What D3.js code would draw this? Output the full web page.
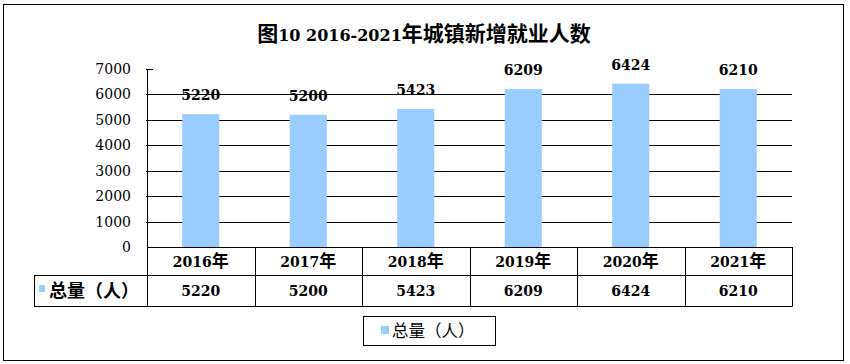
<!DOCTYPE html>
<html>
<head>
<meta charset="utf-8">
<script src="https://cdn.jsdelivr.net/npm/d3@7"></script>
<style>
  body { margin: 0; background: #fff; }
  svg { display: block; }
</style>
</head>
<body>
<svg id="chart"></svg>
<script>
// chart data
const title = "图10 2016-2021年城镇新增就业人数";
const years = ["2016年", "2017年", "2018年", "2019年", "2020年", "2021年"];
const seriesName = "总量（人）";
const totals = [5220, 5200, 5423, 6209, 6424, 6210];
const yTicks = [0, 1000, 2000, 3000, 4000, 5000, 6000, 7000];

const width = 850, height = 364;
const barColor = "#99ccff";
const serif = "'DejaVu Serif', 'Noto Sans CJK SC', serif";
const cjk = "'Noto Sans CJK SC', sans-serif";

const plot = { left: 147, right: 792, top: 69, bottom: 247 };
const rowH = [28, 31]; // header row, value row

const svg = d3.select("#chart").attr("width", width).attr("height", height);

// split text into latin / CJK runs so both can get their own size
function mixedText(sel, str, latinSize, cjkSize) {
  const parts = str.split(/([\u3000-\u9fff\uff00-\uffef]+)/).filter((s) => s.length);
  parts.forEach((p) => {
    const isCjk = /[\u3000-\u9fff\uff00-\uffef]/.test(p);
    sel.append("tspan")
      .attr("font-family", isCjk ? cjk : serif)
      .attr("font-size", isCjk ? cjkSize : latinSize)
      .text(p);
  });
  return sel;
}

// outer frame
svg.append("rect")
  .attr("x", 3.5).attr("y", 4.5)
  .attr("width", 840).attr("height", 356)
  .attr("fill", "#fff").attr("stroke", "#000").attr("stroke-width", 1);

// title
mixedText(
  svg.append("text")
    .attr("x", 424).attr("y", 41)
    .attr("text-anchor", "middle")
    .attr("font-weight", "bold")
    .attr("fill", "#000"),
  title, 16, 21
);

const x = d3.scaleBand().domain(years).range([plot.left, plot.right]).padding(0);
const y = d3.scaleLinear().domain([0, 7000]).range([plot.bottom, plot.top]);
const barW = x.bandwidth() * 0.345;

// gridlines (7000 only gets a short tick)
svg.append("g")
  .selectAll("line")
  .data(yTicks.filter((d) => d > 0))
  .join("line")
  .attr("x1", plot.left - 1)
  .attr("x2", (d) => (d === 7000 ? plot.left + 6 : plot.right))
  .attr("y1", (d) => Math.round(y(d)) + 0.5)
  .attr("y2", (d) => Math.round(y(d)) + 0.5)
  .attr("stroke", "#000");

// y axis line
svg.append("line")
  .attr("x1", plot.left + 0.5).attr("x2", plot.left + 0.5)
  .attr("y1", Math.round(y(7000)) + 0.5).attr("y2", plot.bottom)
  .attr("stroke", "#000");

// y tick labels
svg.append("g")
  .selectAll("text")
  .data(yTicks)
  .join("text")
  .attr("x", 131)
  .attr("y", (d) => y(d))
  .attr("dy", "0.36em")
  .attr("text-anchor", "end")
  .attr("font-family", serif)
  .attr("font-size", 14)
  .attr("fill", "#000")
  .text((d) => d);

// bars
svg.append("g")
  .selectAll("rect")
  .data(totals)
  .join("rect")
  .attr("x", (d, i) => x(years[i]) + (x.bandwidth() - barW) / 2)
  .attr("y", (d) => y(d))
  .attr("width", barW)
  .attr("height", (d) => y(0) - y(d))
  .attr("fill", barColor);

// value labels
svg.append("g")
  .selectAll("text")
  .data(totals)
  .join("text")
  .attr("x", (d, i) => x(years[i]) + x.bandwidth() / 2)
  .attr("y", (d) => y(d) - 14)
  .attr("text-anchor", "middle")
  .attr("font-family", serif)
  .attr("font-weight", "bold")
  .attr("font-size", 14)
  .attr("fill", "#000")
  .text((d) => d);

// data table under the axis
const tTop = plot.bottom;
const tMid = tTop + rowH[0];
const tBot = tMid + rowH[1];
const tLeft = 34;
const table = svg.append("g").attr("stroke", "#000").attr("fill", "none");

table.append("line")
  .attr("x1", plot.left).attr("x2", plot.right + 0.5)
  .attr("y1", tTop + 0.5).attr("y2", tTop + 0.5);
table.append("line")
  .attr("x1", tLeft).attr("x2", plot.right + 0.5)
  .attr("y1", tMid + 0.5).attr("y2", tMid + 0.5);
table.append("line")
  .attr("x1", tLeft).attr("x2", plot.right + 0.5)
  .attr("y1", tBot + 0.5).attr("y2", tBot + 0.5);
table.append("line")
  .attr("x1", tLeft + 0.5).attr("x2", tLeft + 0.5)
  .attr("y1", tMid).attr("y2", tBot + 0.5);
table.selectAll(".col")
  .data(years.map((d) => x(d)).concat([plot.right]))
  .join("line")
  .attr("class", "col")
  .attr("x1", (d) => Math.round(d) + 0.5)
  .attr("x2", (d) => Math.round(d) + 0.5)
  .attr("y1", tTop)
  .attr("y2", tBot + 0.5);

// header row: categories
svg.append("g")
  .selectAll("text")
  .data(years)
  .join("text")
  .attr("x", (d) => x(d) + x.bandwidth() / 2)
  .attr("y", (tTop + tMid) / 2)
  .attr("dy", "0.36em")
  .attr("text-anchor", "middle")
  .attr("font-weight", "bold")
  .attr("fill", "#000")
  .each(function (d) { mixedText(d3.select(this), d, 14, 17); });

// value row
svg.append("g")
  .selectAll("text")
  .data(totals)
  .join("text")
  .attr("x", (d, i) => x(years[i]) + x.bandwidth() / 2)
  .attr("y", (tMid + tBot) / 2)
  .attr("dy", "0.36em")
  .attr("text-anchor", "middle")
  .attr("font-family", serif)
  .attr("font-weight", "bold")
  .attr("font-size", 14)
  .attr("fill", "#000")
  .text((d) => d);

// series cell with key
svg.append("rect")
  .attr("x", 39).attr("y", 285)
  .attr("width", 6).attr("height", 7)
  .attr("fill", barColor);
svg.append("text")
  .attr("x", 49).attr("y", (tMid + tBot) / 2)
  .attr("dy", "0.36em")
  .attr("font-family", cjk)
  .attr("font-weight", "bold")
  .attr("font-size", 18)
  .attr("fill", "#000")
  .text(seriesName);

// legend box
const legend = svg.append("g").attr("transform", "translate(363,316)");
legend.append("rect")
  .attr("x", 0.5).attr("y", 0.5)
  .attr("width", 132).attr("height", 29)
  .attr("fill", "#fff").attr("stroke", "#000");
legend.append("rect")
  .attr("x", 18).attr("y", 10)
  .attr("width", 8).attr("height", 8)
  .attr("fill", barColor);
legend.append("text")
  .attr("x", 29).attr("y", 15)
  .attr("dy", "0.36em")
  .attr("font-family", cjk)
  .attr("font-size", 16.5)
  .attr("fill", "#000")
  .text(seriesName);
</script>
</body>
</html>
